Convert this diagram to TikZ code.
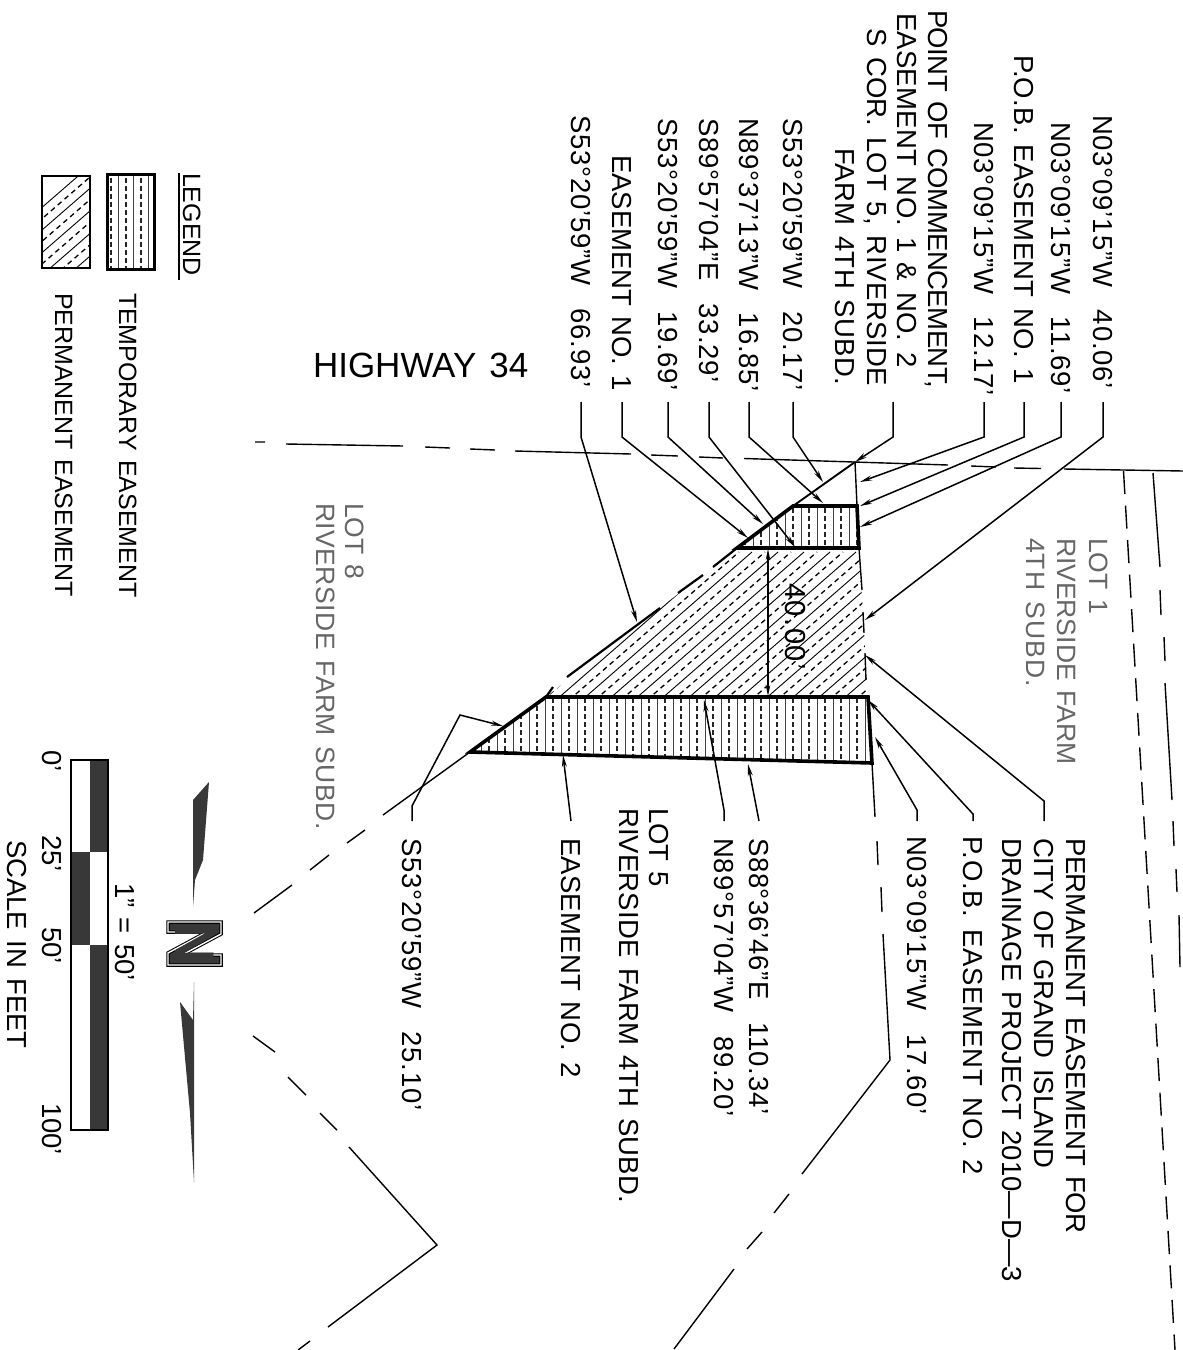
\documentclass[tikz,border=0pt]{standalone}
\usepackage{fontspec}
\setmainfont[WordSpace=1.35]{Liberation Sans}
\usetikzlibrary{arrows.meta,calc}
\definecolor{darkfill}{gray}{0.22}
\newcommand{\ls}[1]{\addfontfeature{LetterSpace=#1}}
\tikzset{
 lb/.style={rotate=-90,anchor=base west,inner sep=0pt,outer sep=0pt,text height=20pt,text depth=0pt,font=\fontsize{27.5}{28}\selectfont},
 thinlb/.style={lb,text=black!60,font=\fontsize{26.5}{28}\selectfont},
 leglb/.style={lb,font=\fontsize{25}{28}\selectfont},
 lead/.style={line width=1.5pt,-{Stealth[length=12pt,width=5pt]}},
 bound/.style={line width=1.4pt},
 thickedge/.style={line width=3.6pt},
 hs/.style={line width=0.9pt},
 hd/.style={line width=1.3pt,dash pattern=on 5pt off 4pt},
 vs/.style={line width=0.8pt,black!75},
 vd/.style={line width=1.1pt,black!85,dash pattern=on 5pt off 3pt},
}
\begin{document}
\begin{tikzpicture}[x=1pt,y=-1pt]
\fill[white,use as bounding box] (0,0) rectangle (1183,1350);
% reference levels for the leaders
\coordinate (topA) at (0,402);
\coordinate (topB) at (0,437);
\coordinate (botA) at (0,821);
% corner points
\coordinate (pc) at (855,462);
\coordinate (a1) at (793,506);
\coordinate (a2) at (857,506);
\coordinate (a3) at (859,548);
\coordinate (a4) at (737,548);
\coordinate (b1) at (546,697);
\coordinate (b2) at (868,697);
\coordinate (b3) at (872,763);
\coordinate (b4) at (470,752);
% permanent hatch
\begin{scope}
\clip (a4) -- (a3) -- (b2) -- (b1) -- cycle;
\foreach \i in {0,...,46}{
 \pgfmathsetmacro{\xa}{400+\i*13}
 \ifodd\i \draw[hd] (\xa,700) -- ++(170,-148);
 \else \draw[hs] (\xa,700) -- ++(170,-148); \fi
}
\end{scope}
% temporary hatch
\begin{scope}
\clip (a1) -- (a2) -- (a3) -- (a4) -- cycle;
\foreach \i in {0,...,16}{
 \pgfmathsetmacro{\xa}{737+\i*8}
 \ifodd\i \draw[vd] (\xa,500) -- (\xa,550);
 \else \draw[vs] (\xa,500) -- (\xa,550); \fi
}
\end{scope}
\begin{scope}
\clip (b1) -- (b2) -- (b3) -- (b4) -- cycle;
\foreach \i in {0,...,51}{
 \pgfmathsetmacro{\xa}{465+\i*8}
 \ifodd\i \draw[vd] (\xa,690) -- (\xa,770);
 \else \draw[vs] (\xa,690) -- (\xa,770); \fi
}
\end{scope}
% easement outlines
\draw[thickedge,line join=miter] (a1) -- (a2) -- (a3) -- (a4) -- cycle;
\draw[thickedge,line join=miter] (b1) -- (b2) -- (b3) -- (b4) -- cycle;
\draw[line width=2.2pt] (a4) -- (713,567) (703,575) -- (678,593) (660,608) -- (567,677) (553,687) -- (b1);
\draw[bound] (a3) -- (862,590) (863,612) -- (864,633) (865,653) -- (866,680);
\draw[bound] (pc) -- (a2);
\draw[line width=1.9pt] (pc) -- (a1);
\draw[line width=1.2pt,{Stealth[length=11pt,width=4.5pt]}-{Stealth[length=11pt,width=4.5pt]}] (768,549) -- (768,696);
% boundary lines
\draw[bound] (255,442)--(265,442) (286,444)--(403,446) (425,447)--(450,448) (470,449)--(495,450) (515,451)--(631,454) (651,455)--(678,456) (699,457)--(723,458) (744,458.5)--(948,465) (971,466)--(996,467) (1014,468)--(1041,468.5) (1064,469)--(1183,471);
\draw[bound] (470,752)--(383,815) (365,830)--(347,843) (329,855)--(310,870) (292,885)--(254,913);
\draw[bound] (253,1036)--(275,1052) (288,1077)--(306,1095) (320,1113)--(337,1130) (349,1147)--(437,1245)--(328,1327) (310,1341)--(298,1350);
\draw[bound] (b3)--(875,817) (877,841)--(878,865) (881,887)--(882,912) (883,934)--(890,1060)--(802,1174) (789,1194)--(774,1213) (762,1232)--(747,1249) (734,1269)--(674,1349);
\draw[bound,dash pattern=on 23pt off 11.6pt] (1123.5,471) -- (1175,1350);
\draw[bound] (1153,473)--(1160,567) (1160,590)--(1161,615) (1164,637)--(1165,661) (1165,683)--(1172,800) (1173,821)--(1174,846) (1176,869)--(1177,892) (1179,915)--(1180,967);
% top labels
\node[lb] (t11) at (1093,115) {\ls{3}N03°09'15"W\ \ 40.06'};
\node[lb] (t10) at (1051,122) {\ls{3}N03°09'15"W\ \ 11.69'};
\node[lb] (t9) at (1014,55) {\ls{1}P.O.B. EASEMENT NO. 1};
\node[lb] (t8) at (974,122) {\ls{3}N03°09'15"W\ \ 12.17'};
\node[lb] (t7a) at (928,10) {\ls{-2}POINT OF COMMENCEMENT,};
\node[lb] (t7b) at (897,13) {\ls{1}EASEMENT NO. 1 \& NO. 2};
\node[lb] (t7c) at (867,28) {\ls{1}S COR. LOT 5, RIVERSIDE};
\node[lb] (t7d) at (835,148) {\ls{1.3}FARM 4TH SUBD.};
\node[lb] (t6) at (783,118) {\ls{3}S53°20'59"W\ \ 20.17'};
\node[lb] (t5) at (739,118) {\ls{3}N89°37'13"W\ \ 16.85'};
\node[lb] (t4) at (699,118) {\ls{3}S89°57'04"E\ \ 33.29'};
\node[lb] (t3) at (658,118) {\ls{3}S53°20'59"W\ \ 19.69'};
\node[lb] (t2) at (612,155) {EASEMENT NO. 1};
\node[lb] (t1) at (571,115) {\ls{3}S53°20'59"W\ \ 66.93'};
% bottom labels
\node[lb] (p1) at (1066,838) {\ls{-1.3}PERMANENT EASEMENT FOR};
\node[lb] (p2) at (1034,838) {CITY OF GRAND ISLAND};
\node[lb] (p3) at (1002,838) {DRAINAGE PROJECT 2010---D---3};
\node[lb] (b5) at (963,836) {\ls{3}P.O.B. EASEMENT NO. 2};
\node[lb] (b6) at (907,836) {\ls{4}N03°09'15"W\ \ 17.60'};
\node[lb] (b7) at (749,838) {\ls{2.5}S88°36'46"E\ \ 110.34'};
\node[lb] (b8) at (714,838) {\ls{4}N89°57'04"W\ \ 89.20'};
\node[lb] (b9) at (649,808) {LOT 5};
\node[lb] (b10) at (619,808) {\ls{0.6}RIVERSIDE FARM 4TH SUBD.};
\node[lb] (b11) at (561,838) {\ls{1}EASEMENT NO. 2};
\node[lb] (b12) at (402,838) {\ls{3}S53°20'59"W\ \ 25.10'};
% other labels
\node[thinlb] (lot1a) at (1089,538) {LOT 1};
\node[thinlb] (lot1b) at (1057,538) {RIVERSIDE FARM};
\node[thinlb] (lot1c) at (1026,538) {\ls{4}4TH SUBD.};
\node[thinlb] (lot8a) at (345,503) {LOT 8};
\node[thinlb] (lot8b) at (316,503) {\ls{2}RIVERSIDE FARM SUBD.};
\node[lb,font=\fontsize{29}{30}\selectfont] (dim) at (785,583) {\ls{5.5}40.00'};
\node[inner sep=0pt,outer sep=0pt,anchor=base west,font=\fontsize{35}{36}\selectfont] (hwy) at (313,377) {HIGHWAY 34};
% top leaders
\coordinate (e1) at (637,622);
\coordinate (e2) at (748,538);
\coordinate (e3) at (763,524);
\coordinate (e4) at (795,547);
\coordinate (e5) at (823,503);
\coordinate (e6) at (823,482);
\coordinate (e8) at (860,482);
\coordinate (e9) at (860,506);
\coordinate (e10) at (860,527);
\coordinate (e11) at (865,620);
\coordinate (s7a) at (893,402);
\coordinate (s7b) at (893,437);
\draw[lead] (t1.east |- topA) -- (t1.east |- topB) -- (e1);
\draw[lead] (t2.east |- topA) -- (t2.east |- topB) -- (e2);
\draw[lead] (t3.east |- topA) -- (t3.east |- topB) -- (e3);
\draw[lead] (t4.east |- topA) -- (t4.east |- topB) -- (e4);
\draw[lead] (t5.east |- topA) -- (t5.east |- topB) -- (e5);
\draw[lead] (t6.east |- topA) -- (t6.east |- topB) -- (e6);
\draw[lead] (s7a) -- (s7b) -- (pc);
\draw[lead] (t8.east |- topA) -- (t8.east |- topB) -- (e8);
\draw[lead] (t9.east |- topA) -- (t9.east |- topB) -- (e9);
\draw[lead] (t10.east |- topA) -- (t10.east |- topB) -- (e10);
\draw[lead] (t11.east |- topA) -- (t11.east |- topB) -- (e11);
% bottom leaders
\coordinate (q1) at (865,655);
\coordinate (q5) at (868,700);
\coordinate (q6) at (875,737);
\coordinate (q7) at (748,764);
\coordinate (q8) at (704,700);
\coordinate (q11) at (563,755);
\coordinate (q12) at (503,726);
\coordinate (k1) at (1048,801);
\coordinate (k5) at (973,814);
\coordinate (k6) at (917,810);
\coordinate (k8) at (723,810);
\coordinate (k12a) at (412,806);
\coordinate (k12b) at (460,715);
\draw[lead] (p2.west |- botA) -- (k1 -| p2.west) -- (q1);
\draw[lead] (b5.west |- botA) -- (k5 -| b5.west) -- (q5);
\draw[lead] (b6.west |- botA) -- (k6 -| b6.west) -- (q6);
\draw[lead] (b7.west |- botA) -- (q7);
\draw[lead] (b8.west |- botA) -- (k8 -| b8.west) -- (q8);
\draw[lead] (b11.west |- botA) -- (q11);
\draw[lead] (b12.west |- botA) -- (k12a -| b12.west) -- (k12b) -- (q12);
% legend
\node[leglb] (lg) at (183,173) {LEGEND};
\draw[line width=1.5pt] (179,173) -- (179,280);
\begin{scope}
\clip (107,174) rectangle (154,269);
\foreach \i in {0,...,6}{
 \pgfmathsetmacro{\xa}{111+\i*7.5}
 \ifodd\i \draw[vs] (\xa,170) -- (\xa,272);
 \else \draw[vd] (\xa,170) -- (\xa,272); \fi
}
\end{scope}
\draw[line width=3pt] (107,174) rectangle (154,269);
\begin{scope}
\clip (42,176) rectangle (90,268);
\foreach \i in {0,...,12}{
 \pgfmathsetmacro{\xa}{-30+\i*13}
 \ifodd\i \draw[hd] (\xa,270) -- ++(130,-113);
 \else \draw[hs] (\xa,270) -- ++(130,-113); \fi
}
\end{scope}
\draw[line width=1.4pt] (42,176) rectangle (90,268);
\node[leglb] (lg1) at (119,293) {TEMPORARY EASEMENT};
\node[leglb] (lg2) at (55,293) {PERMANENT EASEMENT};
% north arrow
\fill[darkfill] (209,782) -- (193,800) -- (193,907) -- (195,880) -- (203,860) -- cycle;
\fill[darkfill] (194,982) -- (193,1020) -- (180,1002) -- (190,1113) -- (194,1182) -- cycle;
\def\npoly{(168,922) -- (221,922) -- (221,934) -- (182,955) -- (221,955) -- (221,965) -- (168,965) -- (168,953) -- (207,932) -- (168,932) -- cycle}
\draw[fill=darkfill,draw=black,line width=3.5pt,line join=miter] \npoly;
\draw[white,line width=1.4pt,line join=miter] \npoly;
\node[rotate=-90,inner sep=0pt,outer sep=0pt,text=darkfill,font=\fontsize{56}{56}\selectfont\bfseries] (north) at (194.5,943.5) {N};
% scale
\fill[white] (71,760) rectangle (108,1130);
\fill[darkfill] (90,760) rectangle (108,852);
\fill[darkfill] (71,852) rectangle (90,945);
\fill[darkfill] (90,945) rectangle (108,1130);
\draw[line width=1.4pt] (71,760) rectangle (108,1130);
\node[lb] (s0) at (42,750) {0'};
\node[lb] (s25) at (42,835) {25'};
\node[lb] (s50) at (42,927) {50'};
\node[lb] (s100) at (42,1103) {100'};
\node[lb] (sc) at (7,840) {SCALE IN FEET};
\node[lb] (ratio) at (115,883) {1" = 50'};
\end{tikzpicture}
\end{document}
